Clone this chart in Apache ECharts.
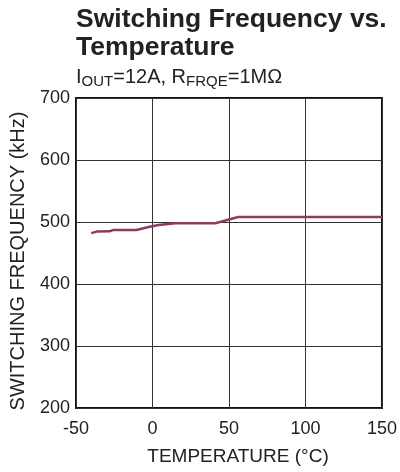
<!DOCTYPE html>
<html><head><meta charset="utf-8">
<script src="https://cdn.jsdelivr.net/npm/echarts@6/dist/echarts.min.js"></script>
<style>html,body{margin:0;padding:0;background:#fff}#c{width:400px;height:472px}</style>
</head><body><div id="c"></div>
<script>
const temperature = [-40, -36.5, -28, -26, -10.5, -2.5, 4, 15, 41, 56, 150];
const frequency   = [482, 484.5, 485, 487, 487, 492, 495, 498, 498, 508, 508];
const xTicks = [-50, 0, 50, 100, 150];
const yTicks = [200, 300, 400, 500, 600, 700];
const xName = 'TEMPERATURE (°C)';
const yName = 'SWITCHING FREQUENCY (kHz)';

const chart = echarts.init(document.getElementById('c'), null, {renderer: 'canvas'});
const font = "'Liberation Sans', Arial, sans-serif";
chart.setOption({
  animation: false,
  textStyle: {fontFamily: font},
  title: [{
    text: 'Switching Frequency vs.\nTemperature',
    left: 76, top: 6, padding: 0,
    textStyle: {fontFamily: font, fontSize: 26.5, fontWeight: 'bold', color: '#222', lineHeight: 28}
  }, {
    text: 'I{s|OUT}=12A, R{s|FRQE}=1MΩ',
    left: 76, top: 65, padding: 0,
    textStyle: {fontFamily: font, fontSize: 20, fontWeight: 'normal', color: '#222',
      rich: {s: {fontFamily: font, fontSize: 15, fontWeight: 'normal', color: '#222', padding: [9, 0, 0, 0]}}}
  }],
  graphic: [{
    type: 'text', x: 238, y: 457,
    style: {text: xName, font: "19px 'Liberation Sans', Arial, sans-serif", fill: '#222', align: 'center', verticalAlign: 'middle'}
  }, {
    type: 'text', x: 18, y: 261, rotation: Math.PI / 2,
    style: {text: yName, font: "20px 'Liberation Sans', Arial, sans-serif", fill: '#222', align: 'center', verticalAlign: 'middle'}
  }],
  grid: {left: 76, right: 14, top: 98, bottom: 64, show: true, borderColor: '#111', borderWidth: 2},
  xAxis: {
    type: 'value', min: -50, max: 150, interval: 50,
    axisLine: {show: false}, axisTick: {show: false},
    axisLabel: {fontFamily: font, fontSize: 18, color: '#222', margin: 12,
      formatter: v => xTicks.includes(v) ? String(v) : ''},
    splitLine: {show: true, lineStyle: {color: '#333', width: 1}}
  },
  yAxis: {
    type: 'value', min: 200, max: 700, interval: 100,
    axisLine: {show: false}, axisTick: {show: false},
    axisLabel: {fontFamily: font, fontSize: 18, color: '#222', margin: 6,
      formatter: v => yTicks.includes(v) ? String(v) : ''},
    splitLine: {show: true, lineStyle: {color: '#333', width: 1}}
  },
  series: [{
    type: 'line', data: temperature.map((t, i) => [t, frequency[i]]),
    symbol: 'none', lineStyle: {color: '#8e3a62', width: 2.5}
  }]
});
</script></body></html>
